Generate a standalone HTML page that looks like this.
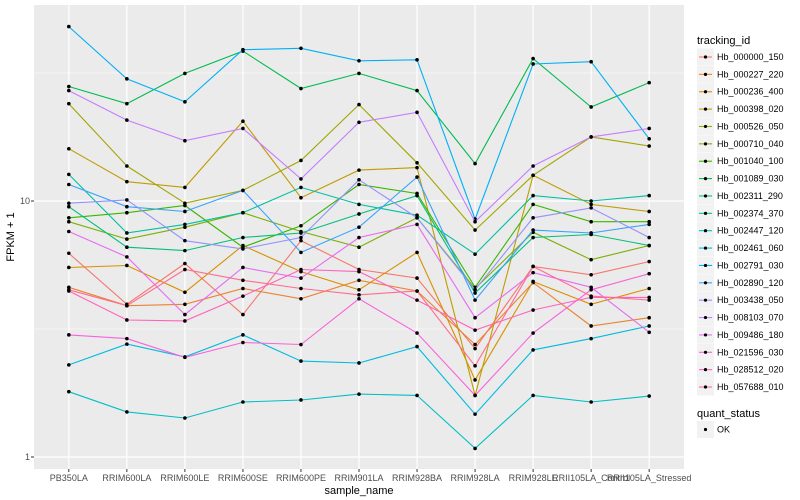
<!DOCTYPE html>
<html><head><meta charset="utf-8"><style>
body{margin:0;background:#fff;}
svg{display:block;font-family:"Liberation Sans",sans-serif;}
</style></head><body>
<svg id="chart" width="800" height="500"></svg>
<script>
const categories=["PB350LA","RRIM600LA","RRIM600LE","RRIM600SE","RRIM600PE","RRIM901LA","RRIM928BA","RRIM928LA","RRIM928LE","RRII105LA_Control","RRII105LA_Stressed"];
const seriesNames=["Hb_000000_150","Hb_000227_220","Hb_000236_400","Hb_000398_020","Hb_000526_050","Hb_000710_040","Hb_001040_100","Hb_001089_030","Hb_002311_290","Hb_002374_370","Hb_002447_120","Hb_002461_060","Hb_002791_030","Hb_002890_120","Hb_003438_050","Hb_008103_070","Hb_009486_180","Hb_021596_030","Hb_028512_020","Hb_057688_010"];
const seriesColors=["#F8766D","#EA8331","#D89000","#C09B00","#A3A500","#7CAE00","#39B600","#00BB4E","#00BF7D","#00C1A3","#00BFC4","#00BAE0","#00B0F6","#35A2FF","#9590FF","#C77CFF","#E76BF3","#FA62DB","#FF62BC","#FF6C90"];
const s000000=[6.25,3.95,5.7,3.6,7,5.4,5.0,2.65,5.55,5.15,5.8];
const s000227=[4.6,3.9,3.95,4.55,4.15,4.9,4.45,2.75,4.8,3.25,3.5];
const s000236=[5.5,5.6,4.4,6.7,5.3,4.5,6.3,2.0,4.85,3.95,4.55];
const s000398=[16,11.9,11.3,20.5,10.3,13.2,13.5,1.74,12.6,9.7,9.1];
const s000526=[24,13.7,9.8,11,14.4,23.8,14.1,7.7,12.6,17.8,16.4];
const s000710=[8.3,7.1,7.9,9,7.6,6.6,8.6,4.55,7.55,5.9,6.7];
const s001040=[8.6,9,9.6,6.6,8,11.6,10.7,4.6,9.7,8.3,8.3];
const s001089=[28,24,31.5,38.5,27.5,31.5,27,14,36,23.3,29];
const s002311=[9.5,6.6,6.4,7.2,7.5,8.9,10.5,4.37,7.2,7.4,6.7];
const s002374=[12.7,7.5,8.1,9,11.3,9.7,8.8,6.2,10.5,10,10.5];
const s002447=[1.8,1.5,1.42,1.64,1.67,1.76,1.74,1.08,1.74,1.64,1.73];
const s002461=[2.29,2.76,2.46,3,2.37,2.33,2.7,1.47,2.62,2.9,3.25];
const s002791=[48,30,24.4,39,39.5,35.3,35.6,8.5,34.3,35,17.5];
const s002890=[11.6,9.5,9.1,11,6.3,7.9,12.4,4.1,7.7,7.5,8.1];
const s003438=[9.8,10.1,7,6.5,7.2,12.1,8.6,4.5,8.6,9.4,7.2];
const s008103=[27,20.7,17.2,19.2,12.2,20.3,22.2,8.3,13.7,17.8,19.2];
const s009486=[7.6,6.05,3.6,5.5,5,7.2,8.1,3.5,5.25,4.6,3.07];
const s021596=[3.0,2.9,2.45,2.8,2.75,4.15,3.05,1.74,3.05,4.5,5.2];
const s028512=[4.45,3.43,3.4,4.25,5.4,5.3,4.1,3.13,3.75,4.2,4.2];
const s057688=[4.5,3.9,5.4,4.9,4.55,4.3,4.45,2.27,5.55,4.25,4.1];
const seriesValues=[s000000,s000227,s000236,s000398,s000526,s000710,s001040,s001089,s002311,s002374,s002447,s002461,s002791,s002890,s003438,s008103,s009486,s021596,s028512,s057688];
const yTicks=[1,10];
const yMinor=[3.1623,31.623];

const NS="http://www.w3.org/2000/svg";
const svg=document.getElementById('chart');
const PL=34,PR=684,PT=5,PB=469;
const step=(PR-PL)/(categories.length-1+1.2);
function xPos(i){return PL+step*0.6+i*step;}
function yPos(v){return 201-256*Math.log10(v/10);}
function mk(tag,attrs,parent){const e=document.createElementNS(NS,tag);for(const k in attrs)e.setAttribute(k,attrs[k]);(parent||svg).appendChild(e);return e;}

const bg=mk('rect',{x:PL,y:PT,width:PR-PL,height:PB-PT,fill:'#EBEBEB'});


yMinor.forEach(v=>{const l=mk('line',{x1:PL,x2:PR,y1:yPos(v),y2:yPos(v),stroke:'#fff','stroke-width':0.6});

});
yTicks.forEach(v=>{const l=mk('line',{x1:PL,x2:PR,y1:yPos(v),y2:yPos(v),stroke:'#fff','stroke-width':1.2});


const t=mk('text',{x:PL-4,y:yPos(v)+3,'text-anchor':'end','font-size':'9','fill':'#4D4D4D'});t.textContent=v;


mk('line',{x1:PL-3,x2:PL,y1:yPos(v),y2:yPos(v),stroke:'#333','stroke-width':1});});
categories.forEach((c,i)=>{const x=xPos(i);
const l=mk('line',{x1:x,x2:x,y1:PT,y2:PB,stroke:'#fff','stroke-width':1.2});


mk('line',{x1:x,x2:x,y1:PB,y2:PB+3,stroke:'#333','stroke-width':1});
const t=mk('text',{x:x,y:PB+12,'text-anchor':'middle','font-size':'9','fill':'#4D4D4D'});t.textContent=c;

});

seriesValues.forEach((vals,si)=>{
const g=mk('g',{});


const pts=vals.map((v,i)=>xPos(i).toFixed(1)+','+yPos(v).toFixed(1)).join(' ');
const pl=mk('polyline',{points:pts,fill:'none',stroke:seriesColors[si],'stroke-width':1.1},g);


vals.forEach((v,i)=>{const p=mk('circle',{cx:xPos(i),cy:yPos(v),r:1.8,fill:'#000'},g);

});
});

const yt=mk('text',{x:14,y:237,'text-anchor':'middle','font-size':'11',fill:'#000',transform:'rotate(-90 14 237)'});yt.textContent='FPKM + 1';


const xt=mk('text',{x:359,y:494,'text-anchor':'middle','font-size':'11',fill:'#000'});xt.textContent='sample_name';



const lt=mk('text',{x:697,y:44,'font-size':'11',fill:'#000'});lt.textContent='tracking_id';


seriesNames.forEach((n,i)=>{const y=57+i*17.37;
const g=mk('g',{});


mk('rect',{x:697,y:y-8.5,width:17,height:17,fill:'#F2F2F2'},g);
mk('line',{x1:699,x2:712,y1:y,y2:y,stroke:seriesColors[i],'stroke-width':1.1},g);
mk('circle',{cx:705.5,cy:y,r:1.6,fill:'#000'},g);
const t=mk('text',{x:717,y:y+3,'font-size':'9',fill:'#000'},g);t.textContent=n;});
const qt=mk('text',{x:697,y:417,'font-size':'11',fill:'#000'});qt.textContent='quant_status';


const qg=mk('g',{});


mk('rect',{x:697,y:421,width:17,height:17,fill:'#F2F2F2'},qg);
mk('circle',{cx:705.5,cy:429.5,r:1.6,fill:'#000'},qg);
const ok=mk('text',{x:717,y:432.5,'font-size':'9',fill:'#000'},qg);ok.textContent='OK';
</script>
</body></html>
